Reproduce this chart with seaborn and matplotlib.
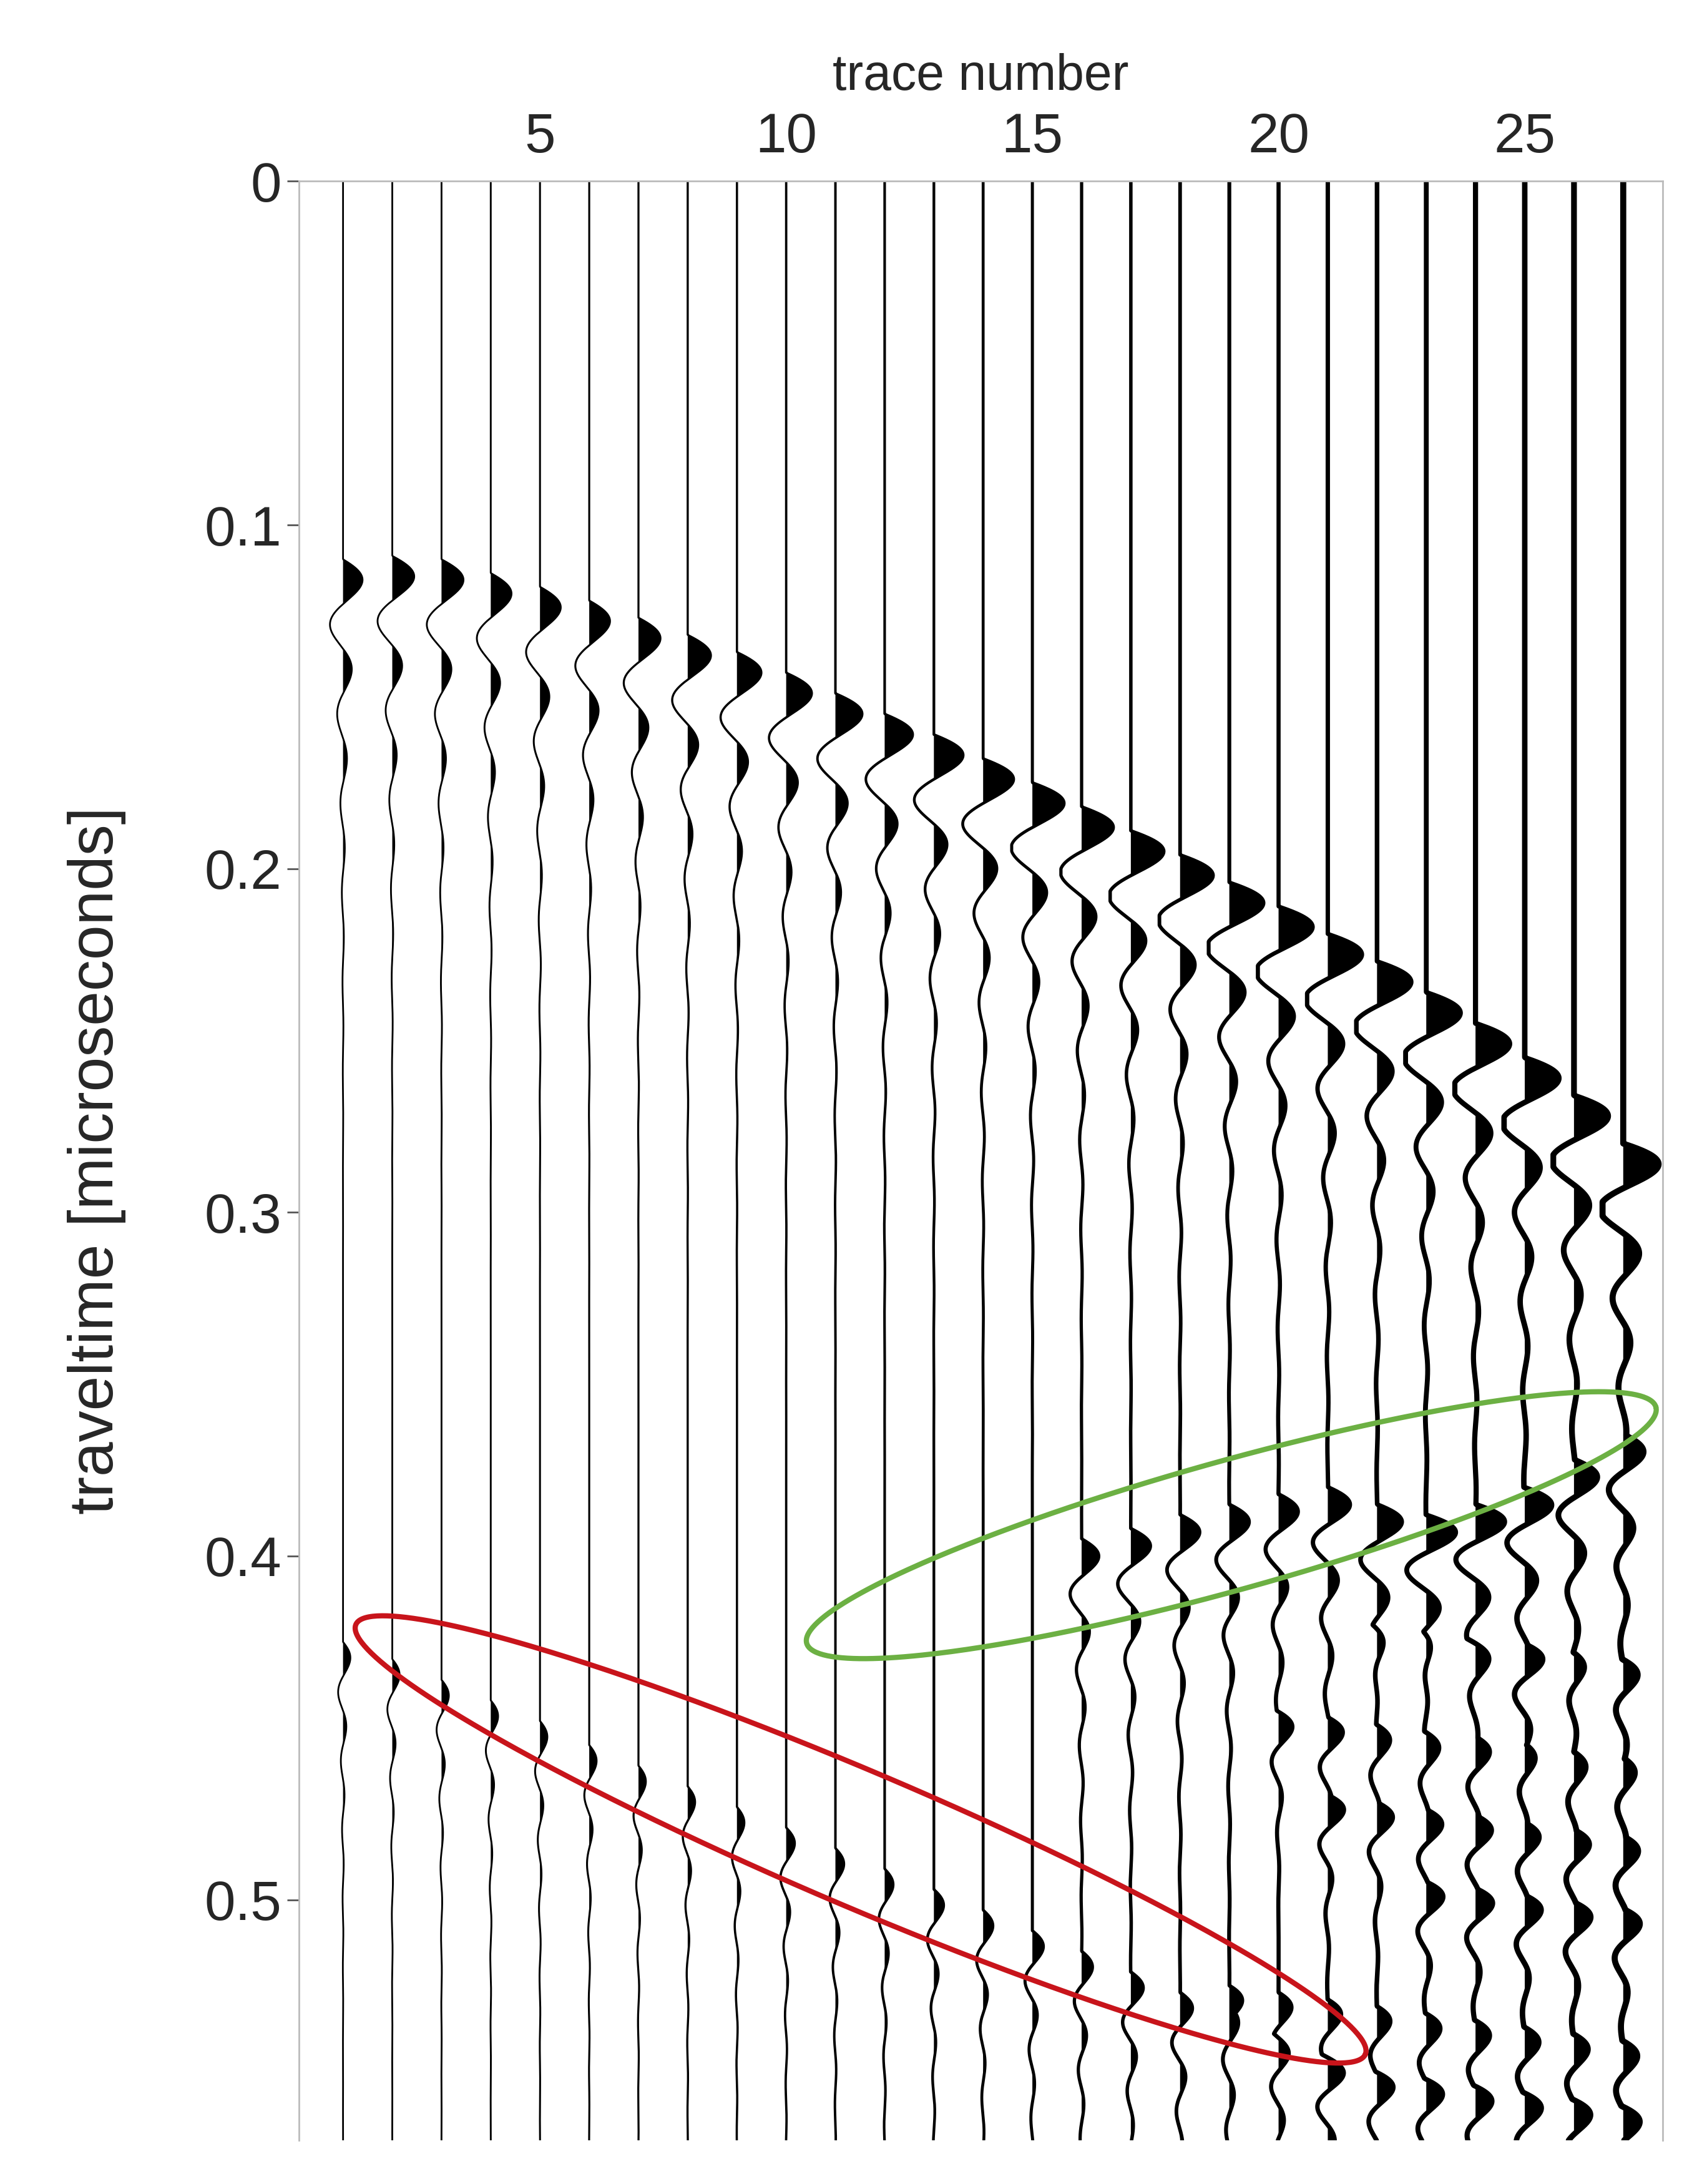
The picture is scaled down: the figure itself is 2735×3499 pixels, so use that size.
import numpy as np
import matplotlib.pyplot as plt
import seaborn as sns

sns.set_theme(style="white")
plt.rcParams['font.family'] = ['Liberation Sans', 'DejaVu Sans']

# --- dados ---
traces = np.arange(1, 28)
# chegada do primeiro evento (s) por traço
first_break = [0.110, 0.109, 0.110, 0.114, 0.118, 0.122, 0.127, 0.132, 0.137, 0.143,
               0.149, 0.155, 0.161, 0.168, 0.175, 0.182, 0.189, 0.196, 0.204, 0.211,
               0.219, 0.227, 0.236, 0.245, 0.255, 0.266, 0.280]
amp_first = [0.8, 0.9, 0.9, 0.85, 0.85, 0.85, 0.9, 0.95, 1.0, 1.05,
             1.1, 1.15, 1.2, 1.25, 1.3, 1.3, 1.35, 1.35, 1.4, 1.4,
             1.4, 1.4, 1.4, 1.4, 1.4, 1.4, 1.45]
# evento de mergulho reverso (elipse verde), traços 16-27
green_traces = [16, 17, 18, 19, 20, 21, 22, 23, 24, 25, 26, 27]
green_time = [0.395, 0.392, 0.388, 0.385, 0.382, 0.380, 0.385, 0.388, 0.385, 0.380, 0.372, 0.365]
green_amp = [0.7, 0.8, 0.8, 0.8, 0.8, 0.9, 1.0, 1.2, 1.2, 1.1, 0.9, 0.8]
# evento da elipse vermelha, traços 1-21
red_time = [0.425, 0.430, 0.436, 0.442, 0.448, 0.455, 0.461, 0.467, 0.473, 0.479,
            0.485, 0.491, 0.497, 0.503, 0.509, 0.515, 0.521, 0.527, 0.533, 0.539, 0.545]
red_amp = [0.3, 0.3, 0.3, 0.3, 0.3, 0.3, 0.3, 0.3, 0.3, 0.35,
           0.35, 0.35, 0.4, 0.4, 0.45, 0.45, 0.5, 0.5, 0.55, 0.6, 0.6]
# eventos tardios nos traços da direita (tempo, traço inicial)
late_events = [(0.420, 22), (0.445, 20), (0.470, 21), (0.495, 23), (0.525, 19), (0.550, 22)]

# elipses: centro, semi-eixos e ângulo em px da figura de referência
ELLIPSES = {
    "red":   {"center": (615, 1312), "a": 392, "b": 48, "angle": 23.0, "color": "#c8141b"},
    "green": {"center": (880, 1088), "a": 315, "b": 46, "angle": -15.5, "color": "#6cb043"},
}
PX_TRACE = 35.2   # px por traço na figura de referência
PX_SEC = 2450.0   # px por segundo


def wavelet(t, t0, period=0.022, n_cycles=2.5):
    tau = t - t0
    w = np.sin(2 * np.pi * tau / period) * np.exp(-np.clip(tau, 0, None) / (period * n_cycles * 0.5))
    w[tau < 0] = 0
    return w


t = np.linspace(0, 0.57, 3000)
fig = plt.figure(figsize=(27.35, 34.99), dpi=100)
ax = fig.add_axes([0.175, 0.02, 0.799, 0.897])

for i, tr in enumerate(traces):
    s = amp_first[i] * wavelet(t, first_break[i], period=0.026)
    if tr <= 21:
        s += red_amp[tr - 1] * wavelet(t, red_time[tr - 1], period=0.02)
    if tr in green_traces:
        j = green_traces.index(tr)
        s += green_amp[j] * wavelet(t, green_time[j], period=0.022)
    for te, start in late_events:
        if tr >= start:
            s += 0.6 * wavelet(t, te + 0.002 * (tr - start), period=0.02, n_cycles=1.5)
    s = np.clip(s, -0.7, 1.3)
    x = tr + s * 0.6
    lw = 2 + 5 * (tr / 27) ** 2
    ax.plot(x, t, color="black", lw=lw)
    ax.fill_betweenx(t, tr, x, where=(x > tr), color="black", lw=0)

for e in ELLIPSES.values():
    th = np.linspace(0, 2 * np.pi, 400)
    ang = np.deg2rad(e["angle"])
    px = e["center"][0] + e["a"] * np.cos(th) * np.cos(ang) - e["b"] * np.sin(th) * np.sin(ang)
    py = e["center"][1] + e["a"] * np.cos(th) * np.sin(ang) + e["b"] * np.sin(th) * np.cos(ang)
    ax.plot((px - 245) / PX_TRACE + 1, (py - 130) / PX_SEC, color=e["color"], lw=6)

ax.set_xlim(0.1, 27.8)
ax.set_ylim(0.57, 0)
ax.xaxis.tick_top()
ax.xaxis.set_label_position("top")
ax.set_xticks([5, 10, 15, 20, 25])
ax.set_yticks([0, 0.1, 0.2, 0.3, 0.4, 0.5])
ax.set_yticklabels(["0", "0.1", "0.2", "0.3", "0.4", "0.5"])
ax.tick_params(axis="y", labelsize=64, length=14, width=2, direction="out", left=True, color="#555555", pad=6)
ax.tick_params(axis="x", labelsize=64, length=0, pad=20)
ax.set_xlabel("trace number", fontsize=58, labelpad=25)
ax.set_ylabel("traveltime [microseconds]", fontsize=72, labelpad=90)
for side in ["top", "right", "left"]:
    ax.spines[side].set_color("#bbbbbb")
    ax.spines[side].set_linewidth(2)
ax.spines["bottom"].set_visible(False)

fig.savefig("out.png", dpi=100)
